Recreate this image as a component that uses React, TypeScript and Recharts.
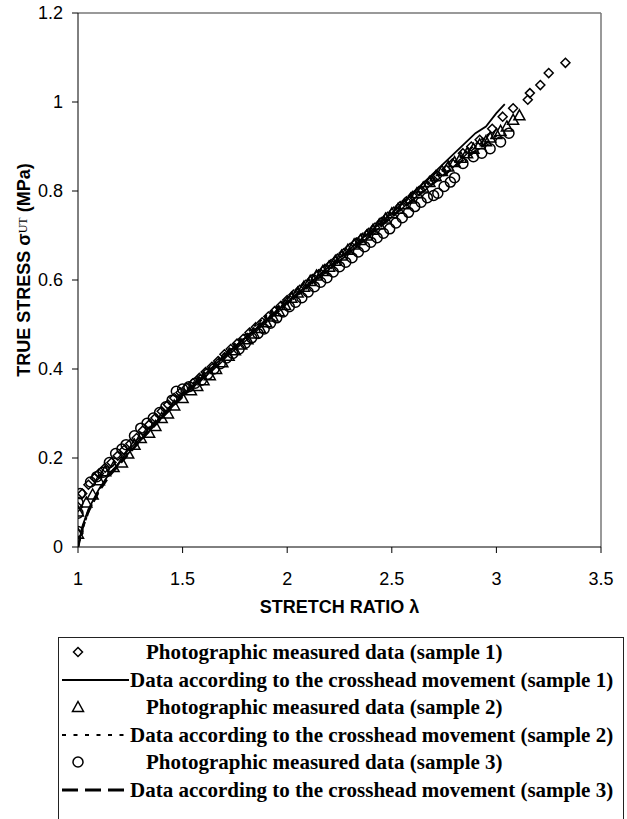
import { ComposedChart, Scatter, XAxis, YAxis, ReferenceLine } from "recharts";

// axis ticks
const xTicks = [1, 1.5, 2, 2.5, 3, 3.5];
const yTicks = [0, 0.2, 0.4, 0.6, 0.8, 1, 1.2];

// photographic measured data, sample 1 (diamonds)
const photo1X = [1.0, 1.0, 1.02, 1.05, 1.08, 1.1, 1.13, 1.16, 1.19, 1.22, 1.25, 1.28, 1.31, 1.34, 1.37, 1.4, 1.43, 1.46, 1.49, 1.52, 1.55, 1.58, 1.61, 1.64, 1.67, 1.7, 1.73, 1.76, 1.79, 1.82, 1.85, 1.88, 1.91, 1.94, 1.97, 2.0, 2.03, 2.06, 2.09, 2.12, 2.15, 2.18, 2.21, 2.24, 2.27, 2.3, 2.33, 2.36, 2.39, 2.42, 2.45, 2.48, 2.51, 2.54, 2.57, 2.6, 2.63, 2.66, 2.69, 2.72, 2.76, 2.79, 2.84, 2.88, 2.92, 2.98, 3.03, 3.08, 3.15, 3.16, 3.21, 3.25, 3.33];
const photo1Y = [0.03, 0.09, 0.12, 0.14, 0.155, 0.165, 0.178, 0.19, 0.205, 0.218, 0.232, 0.245, 0.262, 0.275, 0.29, 0.305, 0.32, 0.335, 0.347, 0.358, 0.368, 0.38, 0.393, 0.405, 0.418, 0.433, 0.445, 0.457, 0.468, 0.482, 0.494, 0.505, 0.518, 0.53, 0.542, 0.555, 0.567, 0.578, 0.59, 0.602, 0.613, 0.625, 0.636, 0.648, 0.66, 0.672, 0.684, 0.695, 0.706, 0.718, 0.73, 0.742, 0.754, 0.766, 0.777, 0.789, 0.8, 0.812, 0.823, 0.835, 0.848, 0.862, 0.885, 0.9, 0.915, 0.94, 0.967, 0.986, 1.005, 1.02, 1.038, 1.065, 1.088];

// photographic measured data, sample 2 (triangles)
const photo2X = [1.0, 1.0, 1.04, 1.07, 1.1, 1.13, 1.17, 1.21, 1.24, 1.27, 1.3, 1.34, 1.37, 1.4, 1.43, 1.46, 1.5, 1.54, 1.57, 1.6, 1.63, 1.66, 1.69, 1.72, 1.75, 1.78, 1.81, 1.84, 1.87, 1.9, 1.93, 1.96, 1.99, 2.02, 2.05, 2.08, 2.11, 2.14, 2.17, 2.2, 2.23, 2.26, 2.29, 2.32, 2.35, 2.38, 2.41, 2.44, 2.47, 2.5, 2.53, 2.56, 2.59, 2.62, 2.65, 2.68, 2.71, 2.74, 2.77, 2.8, 2.83, 2.86, 2.89, 2.92, 2.95, 2.97, 3.0, 3.02, 3.05, 3.08, 3.11];
const photo2Y = [0.03, 0.08, 0.1, 0.118, 0.15, 0.17, 0.18, 0.19, 0.21, 0.23, 0.245, 0.257, 0.272, 0.29, 0.3, 0.318, 0.335, 0.352, 0.362, 0.375, 0.386, 0.4, 0.415, 0.43, 0.442, 0.455, 0.467, 0.48, 0.492, 0.505, 0.518, 0.53, 0.544, 0.56, 0.572, 0.585, 0.598, 0.61, 0.62, 0.63, 0.643, 0.655, 0.668, 0.68, 0.69, 0.7, 0.713, 0.725, 0.738, 0.75, 0.76, 0.77, 0.783, 0.795, 0.808, 0.82, 0.833, 0.845, 0.855, 0.865, 0.875, 0.885, 0.895, 0.905, 0.912, 0.92, 0.928, 0.935, 0.945, 0.96, 0.97];

// photographic measured data, sample 3 (circles)
const photo3X = [1.0, 1.0, 1.0, 1.01, 1.06, 1.09, 1.12, 1.15, 1.18, 1.21, 1.23, 1.27, 1.3, 1.33, 1.36, 1.39, 1.42, 1.45, 1.47, 1.5, 1.53, 1.56, 1.59, 1.62, 1.65, 1.68, 1.71, 1.74, 1.77, 1.8, 1.83, 1.86, 1.89, 1.92, 1.95, 1.98, 2.01, 2.04, 2.07, 2.1, 2.13, 2.16, 2.19, 2.22, 2.25, 2.28, 2.31, 2.34, 2.37, 2.4, 2.43, 2.46, 2.49, 2.52, 2.55, 2.58, 2.61, 2.64, 2.67, 2.7, 2.72, 2.75, 2.78, 2.8, 2.84, 2.89, 2.93, 2.97, 3.02, 3.06];
const photo3Y = [0.035, 0.076, 0.1, 0.12, 0.146, 0.158, 0.168, 0.19, 0.21, 0.22, 0.23, 0.25, 0.267, 0.278, 0.29, 0.302, 0.315, 0.33, 0.35, 0.355, 0.36, 0.368, 0.375, 0.388, 0.4, 0.412, 0.425, 0.435, 0.445, 0.458, 0.47, 0.48, 0.49, 0.503, 0.515, 0.528, 0.54, 0.55, 0.56, 0.573, 0.585, 0.595, 0.605, 0.618, 0.63, 0.64, 0.65, 0.663, 0.675, 0.685, 0.695, 0.705, 0.715, 0.728, 0.74, 0.752, 0.765, 0.775, 0.785, 0.79, 0.795, 0.81, 0.82, 0.83, 0.862, 0.877, 0.885, 0.895, 0.91, 0.93];

// crosshead movement curves
const cross1X = [1, 1.02, 1.05, 1.1, 1.15, 1.2, 1.3, 1.4, 1.5, 1.6, 1.7, 1.8, 1.9, 2.0, 2.1, 2.2, 2.3, 2.4, 2.5, 2.6, 2.7, 2.8, 2.9, 2.95, 3.0, 3.04];
const cross1Y = [0, 0.045, 0.085, 0.13, 0.165, 0.19, 0.24, 0.29, 0.34, 0.385, 0.43, 0.47, 0.51, 0.55, 0.59, 0.63, 0.67, 0.71, 0.75, 0.795, 0.84, 0.885, 0.93, 0.945, 0.975, 0.995];

const cross2X = [1, 1.02, 1.05, 1.1, 1.15, 1.2, 1.3, 1.4, 1.5, 1.6, 1.7, 1.8, 1.9, 2.0, 2.1, 2.2, 2.3, 2.4, 2.5, 2.6, 2.7, 2.8, 2.9, 2.97];
const cross2Y = [0, 0.04, 0.08, 0.128, 0.163, 0.19, 0.245, 0.295, 0.345, 0.39, 0.435, 0.478, 0.52, 0.56, 0.6, 0.64, 0.68, 0.718, 0.755, 0.79, 0.828, 0.865, 0.905, 0.93];

const cross3X = [1, 1.02, 1.05, 1.1, 1.15, 1.2, 1.3, 1.4, 1.5, 1.6, 1.7, 1.8, 1.9, 2.0, 2.1, 2.2, 2.3, 2.4, 2.5, 2.6, 2.7, 2.8, 2.9, 3.0];
const cross3Y = [0, 0.04, 0.08, 0.125, 0.16, 0.187, 0.24, 0.29, 0.338, 0.383, 0.428, 0.47, 0.51, 0.55, 0.59, 0.628, 0.666, 0.705, 0.743, 0.78, 0.818, 0.855, 0.89, 0.925];

const legendLabels = [
  "Photographic measured data (sample 1)",
  "Data according to the crosshead movement (sample 1)",
  "Photographic measured data (sample 2)",
  "Data according to the crosshead movement (sample 2)",
  "Photographic measured data (sample 3)",
  "Data according to the crosshead movement (sample 3)",
];

const zip = (xs: number[], ys: number[]) => xs.map((x, i) => ({ x, y: ys[i] }));

const sansFont = "'Liberation Sans', Arial, sans-serif";
const serifFont = "'Liberation Serif', 'Times New Roman', serif";

const Diamond = (p: any) => {
  const { cx, cy } = p;
  const r = 4.5;
  return <path d={`M${cx},${cy - r}L${cx + r},${cy}L${cx},${cy + r}L${cx - r},${cy}Z`} fill="none" stroke="#000" strokeWidth={1.5} />;
};

const Triangle = (p: any) => {
  const { cx, cy } = p;
  return <path d={`M${cx},${cy - 5.5}L${cx + 5.5},${cy + 4.5}L${cx - 5.5},${cy + 4.5}Z`} fill="none" stroke="#000" strokeWidth={1.5} />;
};

const Circle = (p: any) => {
  const { cx, cy } = p;
  return <circle cx={cx} cy={cy} r={5} fill="none" stroke="#000" strokeWidth={1.5} />;
};

const NoShape = () => <g />;

const YLabel = () => (
  <text
    x={24}
    y={276}
    transform="rotate(-90, 24, 270)"
    textAnchor="middle"
    fontFamily={sansFont}
    fontWeight="bold"
    fontSize={18}
    fill="#000"
  >
    TRUE STRESS <tspan>σ</tspan>
    <tspan fontFamily={serifFont} fontWeight="normal" fontSize={12} dy={-3}>UT</tspan>
    <tspan dy={3}> (MPa)</tspan>
  </text>
);

const XLabel = () => (
  <text x={339.5} y={613} textAnchor="middle" fontFamily={sansFont} fontWeight="bold" fontSize={18} fill="#000">
    STRETCH RATIO λ
  </text>
);

const LegendIcon = ({ i }: { i: number }) => {
  if (i % 2 === 0) {
    const shape = i === 0 ? <Diamond cx={19} cy={14} /> : i === 2 ? <Triangle cx={19} cy={14} /> : <Circle cx={19} cy={14} />;
    return <svg width={70} height={28}>{shape}</svg>;
  }
  const dash = i === 1 ? undefined : i === 3 ? "4 7.5" : "16 7";
  return (
    <svg width={70} height={28}>
      <line x1={3} y1={14} x2={70} y2={14} stroke="#000" strokeWidth={i === 5 ? 3 : 2} strokeDasharray={dash} />
    </svg>
  );
};

const ChartLegend = () => (
  <div
    style={{
      position: "absolute",
      left: 58,
      top: 637,
      width: 566,
      height: 200,
      border: "1px solid #222",
      boxSizing: "border-box",
      background: "#fff",
    }}
  >
    {legendLabels.map((label, i) => (
      <div key={label} style={{ position: "absolute", top: i * 27.5, left: 0, height: 28, width: "100%" }}>
        <div style={{ position: "absolute", left: 0, top: 0, height: 28 }}>
          <LegendIcon i={i} />
        </div>
        <div
          style={{
            position: "absolute",
            left: i % 2 === 0 ? 87 : 71,
            top: 0,
            lineHeight: "28px",
            fontFamily: serifFont,
            fontWeight: "bold",
            fontSize: 21,
            color: "#000",
            whiteSpace: "nowrap",
          }}
        >
          {label}
        </div>
      </div>
    ))}
  </div>
);

export default function App() {
  return (
    <div style={{ position: "absolute", left: 0, top: 0, width: 627, height: 819, background: "#fff", overflow: "hidden" }}>
      <ComposedChart width={627} height={819} margin={{ top: 13, right: 26, bottom: 242, left: 8 }}>
        <XAxis
          type="number"
          dataKey="x"
          domain={[1, 3.5]}
          ticks={xTicks}
          tickSize={6}
          tickMargin={19}
          stroke="#000"
          tick={{ fill: "#000", fontSize: 18, fontFamily: sansFont }}
          allowDataOverflow
          label={<XLabel />}
        />
        <YAxis
          type="number"
          dataKey="y"
          domain={[0, 1.2]}
          ticks={yTicks}
          width={70}
          tickSize={6}
          tickMargin={9}
          stroke="#000"
          tick={{ fill: "#000", fontSize: 18, fontFamily: sansFont }}
          allowDataOverflow
          label={<YLabel />}
        />
        <ReferenceLine y={1.2} stroke="#777" strokeWidth={1.5} />
        <ReferenceLine x={3.5} stroke="#777" strokeWidth={1.5} />
        <Scatter data={zip(cross1X, cross1Y)} line={{ stroke: "#000", strokeWidth: 1.8 }} shape={NoShape} isAnimationActive={false} />
        <Scatter data={zip(cross2X, cross2Y)} line={{ stroke: "#000", strokeWidth: 2.2, strokeDasharray: "3 4" }} shape={NoShape} isAnimationActive={false} />
        <Scatter data={zip(cross3X, cross3Y)} line={{ stroke: "#000", strokeWidth: 2.5, strokeDasharray: "10 6" }} shape={NoShape} isAnimationActive={false} />
        <Scatter data={zip(photo1X, photo1Y)} shape={Diamond} isAnimationActive={false} />
        <Scatter data={zip(photo2X, photo2Y)} shape={Triangle} isAnimationActive={false} />
        <Scatter data={zip(photo3X, photo3Y)} shape={Circle} isAnimationActive={false} />
      </ComposedChart>
      <ChartLegend />
    </div>
  );
}
